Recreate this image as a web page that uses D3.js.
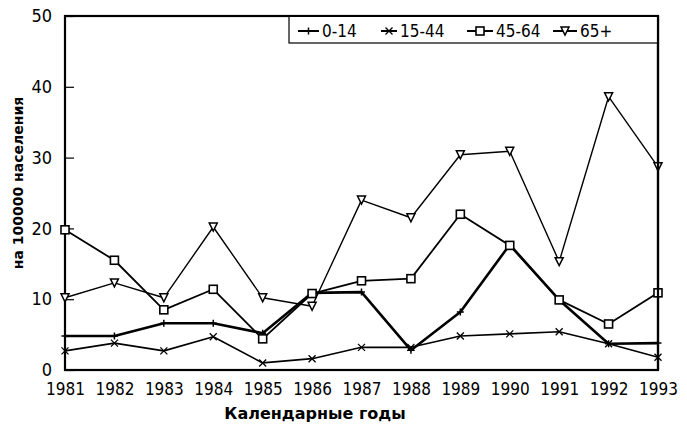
<!DOCTYPE html>
<html><head><meta charset="utf-8">
<script src="https://cdn.jsdelivr.net/npm/d3@7/dist/d3.min.js"></script>
<style>
body{margin:0;background:#fff;}
svg{display:block;}
.tick text{font-family:"DejaVu Sans Condensed","Liberation Sans Narrow",sans-serif;font-stretch:condensed;}
</style></head>
<body><svg id="c" width="687" height="435"></svg>
<script>
const years = [1981,1982,1983,1984,1985,1986,1987,1988,1989,1990,1991,1992,1993];
const seriesNames = ["0-14","15-44","45-64","65+"];
const s0_14  = [4.8,4.8,6.6,6.6,5.2,10.9,11.0,2.8,8.2,17.7,9.9,3.7,3.8];
const s15_44 = [2.7,3.8,2.7,4.7,1.0,1.6,3.2,3.2,4.8,5.1,5.4,3.7,1.8];
const s45_64 = [19.8,15.5,8.5,11.4,4.4,10.8,12.6,12.9,22.0,17.6,9.9,6.5,10.9];
const s65    = [10.2,12.3,10.2,20.2,10.2,9.0,24.0,21.5,30.4,30.9,15.3,38.6,28.7];
const yTicks = [0,10,20,30,40,50];
const yTitle = "на 100000 населения";
const xTitle = "Календарные годы";

const series = [
  {name:seriesNames[0], values:s0_14,  marker:"plus",   width:2.6},
  {name:seriesNames[1], values:s15_44, marker:"cross",  width:1.6},
  {name:seriesNames[2], values:s45_64, marker:"square", width:1.8},
  {name:seriesNames[3], values:s65,    marker:"tri",    width:1.4}
];

const svg = d3.select("#c");
const L=65, R=658, T=16, B=370;
const x = d3.scaleLinear().domain([1981,1993]).range([L,R]);
const y = d3.scaleLinear().domain([0,50]).range([B,T]);

// axes
const yAxis = svg.append("g").attr("transform",`translate(${L},0)`)
  .call(d3.axisLeft(y).tickValues(yTicks).tickSize(-9).tickPadding(13).tickFormat(d3.format("d")));
yAxis.select(".domain").remove();
yAxis.selectAll(".tick line").attr("stroke","#000").attr("stroke-width",1.2);
yAxis.selectAll(".tick text").attr("font-size",18).attr("fill","#000");

const xAxis = svg.append("g").attr("transform",`translate(0,${B})`)
  .call(d3.axisBottom(x).tickValues(years).tickSize(0).tickPadding(13).tickFormat(d3.format("d")));
xAxis.select(".domain").remove();
xAxis.selectAll(".tick text").attr("font-size",17).attr("fill","#000");

// frame
svg.append("rect").attr("x",L).attr("y",T).attr("width",R-L).attr("height",B-T)
  .attr("fill","none").attr("stroke","#000").attr("stroke-width",2.2);

// lines
const line = d3.line().x((d,i)=>x(years[i])).y(d=>y(d));
function marker(g, type, cx, cy){
  const s=3.5;
  if(type==="plus"){
    g.append("path").attr("d",`M${cx-s},${cy}H${cx+s}M${cx},${cy-s}V${cy+s}`)
      .attr("stroke","#000").attr("stroke-width",1.5).attr("fill","none");
  } else if(type==="cross"){
    g.append("path").attr("d",`M${cx-s},${cy-s}L${cx+s},${cy+s}M${cx+s},${cy-s}L${cx-s},${cy+s}`)
      .attr("stroke","#000").attr("stroke-width",1.3).attr("fill","none");
  } else if(type==="square"){
    g.append("rect").attr("x",cx-4).attr("y",cy-4).attr("width",8).attr("height",8)
      .attr("fill","#fff").attr("stroke","#000").attr("stroke-width",1.6);
  } else {
    g.append("path").attr("d",`M${cx-4},${cy-4}H${cx+4}L${cx},${cy+4}Z`)
      .attr("fill","#fff").attr("stroke","#000").attr("stroke-width",1.5);
  }
}
series.forEach(s=>{
  const g = svg.append("g");
  g.append("path").datum(s.values).attr("d",line).attr("fill","none")
    .attr("stroke","#000").attr("stroke-width",s.width).attr("stroke-linejoin","round");
  s.values.forEach((v,i)=>marker(g, s.marker, x(years[i]), y(v)));
});

// legend
const lg = svg.append("g");
lg.append("rect").attr("x",289).attr("y",T).attr("width",R-289).attr("height",27)
  .attr("fill","#fff").attr("stroke","#000").attr("stroke-width",1.2);
svg.append("line").attr("x1",L).attr("x2",R).attr("y1",T).attr("y2",T).attr("stroke","#000").attr("stroke-width",2.2);
svg.append("line").attr("x1",R).attr("x2",R).attr("y1",T).attr("y2",B).attr("stroke","#000").attr("stroke-width",2.2);
const legX = [298,381,467,553];
const legW = [21,16,26,24];
const ly = 31;
series.forEach((s,i)=>{
  const x0=legX[i], x1=legX[i]+legW[i];
  lg.append("line").attr("x1",x0).attr("x2",x1).attr("y1",ly).attr("y2",ly)
    .attr("stroke","#000").attr("stroke-width",2);
  marker(lg, s.marker, (x0+x1)/2, ly);
  lg.append("text").attr("x",x1+3).attr("y",ly+6).text(s.name)
    .attr("font-family","'DejaVu Sans Condensed','Liberation Sans Narrow',sans-serif")
    .attr("font-stretch","condensed")
    .attr("font-size",17).attr("fill","#000");
});

// titles
svg.append("text").attr("x",315).attr("y",419).attr("text-anchor","middle").text(xTitle)
  .attr("font-family","'DejaVu Sans',sans-serif").attr("font-weight","bold").attr("font-size",16).attr("fill","#000");
svg.append("text").attr("transform","translate(23,183) rotate(-90)").attr("text-anchor","middle").text(yTitle)
  .attr("font-family","'DejaVu Sans',sans-serif").attr("font-weight","bold").attr("font-size",14).attr("fill","#000");
</script></body></html>
